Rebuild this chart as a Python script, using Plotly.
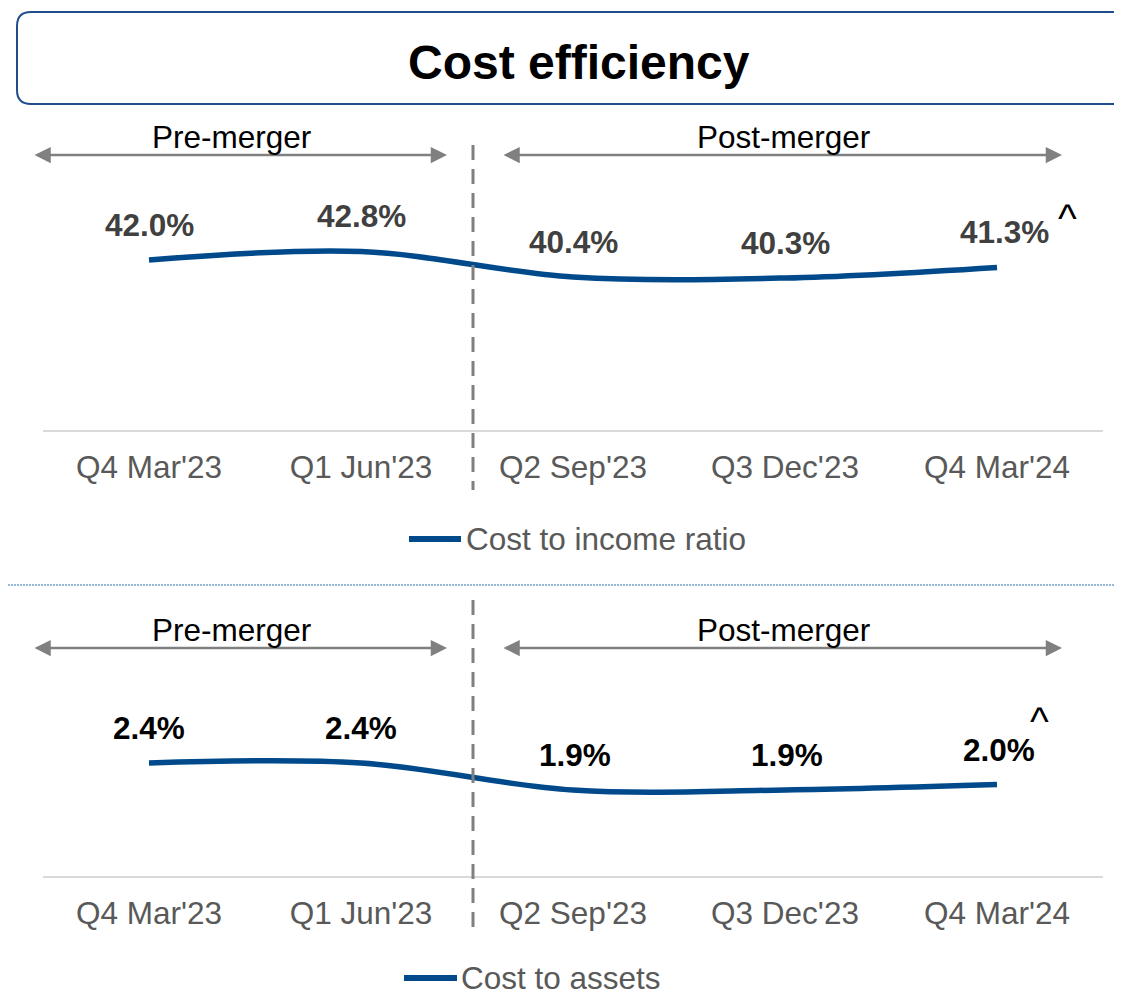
import plotly.graph_objects as go

quarters = ["Q4 Mar'23", "Q1 Jun'23", "Q2 Sep'23", "Q3 Dec'23", "Q4 Mar'24"]
cost_income = [42.0, 42.8, 40.4, 40.3, 41.3]
cost_assets = [2.4, 2.4, 1.9, 1.9, 2.0]
title_text = "Cost efficiency"
period_labels = ["Pre-merger", "Post-merger"]
series_names = ["Cost to income ratio", "Cost to assets"]

# page body has an 8px margin: size the figure so it fills the window exactly
OFF = 8
W, H = 1122 - OFF, 996 - OFF
FONT = "Liberation Sans, Arial, sans-serif"
BLUE = "#004A8C"
GREY = "#808080"


def px(x):
    return (x - OFF) / W


def py(y):
    return 1 - (y - OFF) / H


fig = go.Figure()
fig.add_trace(go.Scatter(
    x=quarters, y=cost_income, mode="lines", name=series_names[0],
    line=dict(color=BLUE, width=5.5, shape="spline", smoothing=1.0),
    xaxis="x", yaxis="y", showlegend=False, hoverinfo="skip"))
fig.add_trace(go.Scatter(
    x=quarters, y=cost_assets, mode="lines", name=series_names[1],
    line=dict(color=BLUE, width=5.5, shape="spline", smoothing=1.0),
    xaxis="x2", yaxis="y2", showlegend=False, hoverinfo="skip"))

xdom = [px(43), px(1103)]
axis_common = dict(type="category", range=[-0.5, 4.5], showline=True,
                   linecolor="#D9D9D9", linewidth=2, showgrid=False,
                   zeroline=False, ticks="", fixedrange=True, ticklabelstandoff=8,
                   tickfont=dict(family=FONT, size=31.5, color="#595959"))
# top panel pixel mapping: y = 278 - (v-40.3)*10.6
top_lo = 40.3 - (430 - 278) / 10.6
top_hi = 40.3 + (278 - 150) / 10.6
# bottom panel pixel mapping: y = 790 - (v-1.9)*54
bot_lo = 1.9 - (876 - 790) / 54
bot_hi = 1.9 + (790 - 640) / 54

fig.update_layout(
    width=W, height=H, margin=dict(l=0, r=0, t=0, b=0),
    paper_bgcolor="white", plot_bgcolor="rgba(0,0,0,0)",
    xaxis=dict(domain=xdom, anchor="y", **axis_common),
    yaxis=dict(domain=[py(430), py(150)], range=[top_lo, top_hi], visible=False, fixedrange=True),
    xaxis2=dict(domain=xdom, anchor="y2", **axis_common),
    yaxis2=dict(domain=[py(876), py(640)], range=[bot_lo, bot_hi], visible=False, fixedrange=True),
    showlegend=False,
)

shapes = []
annotations = []

# Title box (rounded, open on the right)
x0, x1 = px(17), 1.02
yt, yb = py(12), py(104)
rx, ry = 14 / W, 14 / H
path = (f"M {x1},{yt} L {x0+rx},{yt} Q {x0},{yt} {x0},{yt-ry} "
        f"L {x0},{yb+ry} Q {x0},{yb} {x0+rx},{yb} L {x1},{yb}")
shapes.append(dict(type="path", path=path, xref="paper", yref="paper",
                   line=dict(color="#1F4E8C", width=2)))
annotations.append(dict(text=f"<b>{title_text}</b>", x=px(579), y=py(62),
                        xref="paper", yref="paper", showarrow=False,
                        xanchor="center", yanchor="middle",
                        font=dict(family=FONT, size=48, color="black")))

# dotted divider between the two panels
shapes.append(dict(type="line", xref="paper", yref="paper", x0=0, x1=1.02,
                   y0=py(585), y1=py(585),
                   line=dict(color="#2E75B6", width=1.2, dash="2px,1px")))

# per-panel decorations: merger divider, period arrows and labels
for (arrow_y, text_y, dash_y0, dash_y1) in [(155, 137, 145, 490), (648, 630, 600, 936)]:
    shapes.append(dict(type="line", xref="paper", yref="paper",
                       x0=px(473), x1=px(473), y0=py(dash_y0), y1=py(dash_y1),
                       line=dict(color=GREY, width=3, dash="15px,9px")))
    for (xa, xb, label, tx) in [(33, 447, period_labels[0], 231),
                                (502, 1062, period_labels[1], 783)]:
        annotations.append(dict(x=px(xb), y=py(arrow_y), xref="paper", yref="paper",
                                ax=xa - xb, ay=0, axref="pixel", ayref="pixel",
                                text="", showarrow=True, arrowside="end+start",
                                arrowhead=2, startarrowhead=2, arrowsize=1.3,
                                startarrowsize=1.3, arrowwidth=2.5, arrowcolor=GREY))
        annotations.append(dict(x=px(tx), y=py(text_y), xref="paper", yref="paper",
                                text=label, showarrow=False,
                                xanchor="center", yanchor="middle",
                                font=dict(family=FONT, size=31.5, color="black")))

# data labels
for i, (q, v) in enumerate(zip(quarters, cost_income)):
    annotations.append(dict(x=q, y=v, xref="x", yref="y", text=f"<b>{v:.1f}%</b>",
                            showarrow=False, yshift=35, xshift=(7 if i == 4 else 0),
                            xanchor="center", yanchor="middle",
                            font=dict(family=FONT, size=31.5, color="#404040")))
for i, (q, v) in enumerate(zip(quarters, cost_assets)):
    annotations.append(dict(x=q, y=v, xref="x2", yref="y2", text=f"<b>{v:.1f}%</b>",
                            showarrow=False, yshift=35, xshift=(0 if i < 2 else 2),
                            xanchor="center", yanchor="middle",
                            font=dict(family=FONT, size=31.5, color="black")))

# caret footnote markers
for (cx, cy) in [(1067, 218), (1039, 721)]:
    annotations.append(dict(x=px(cx), y=py(cy), xref="paper", yref="paper", text="^",
                            showarrow=False, xanchor="center", yanchor="middle",
                            font=dict(family=FONT, size=40, color="black")))

# legends (line sample + label) below each panel
for (lx0, lx1, ly, tx, name) in [(409, 461, 539, 464, series_names[0]),
                                 (404, 457, 978, 459, series_names[1])]:
    shapes.append(dict(type="line", xref="paper", yref="paper",
                       x0=px(lx0), x1=px(lx1), y0=py(ly), y1=py(ly),
                       line=dict(color=BLUE, width=6)))
    annotations.append(dict(x=px(tx), y=py(ly), xref="paper", yref="paper", text=name,
                            showarrow=False, xanchor="left", yanchor="middle",
                            font=dict(family=FONT, size=31.5, color="#595959")))

fig.update_layout(shapes=shapes, annotations=annotations)
fig.write_html("out.html", config=dict(displayModeBar=False))
